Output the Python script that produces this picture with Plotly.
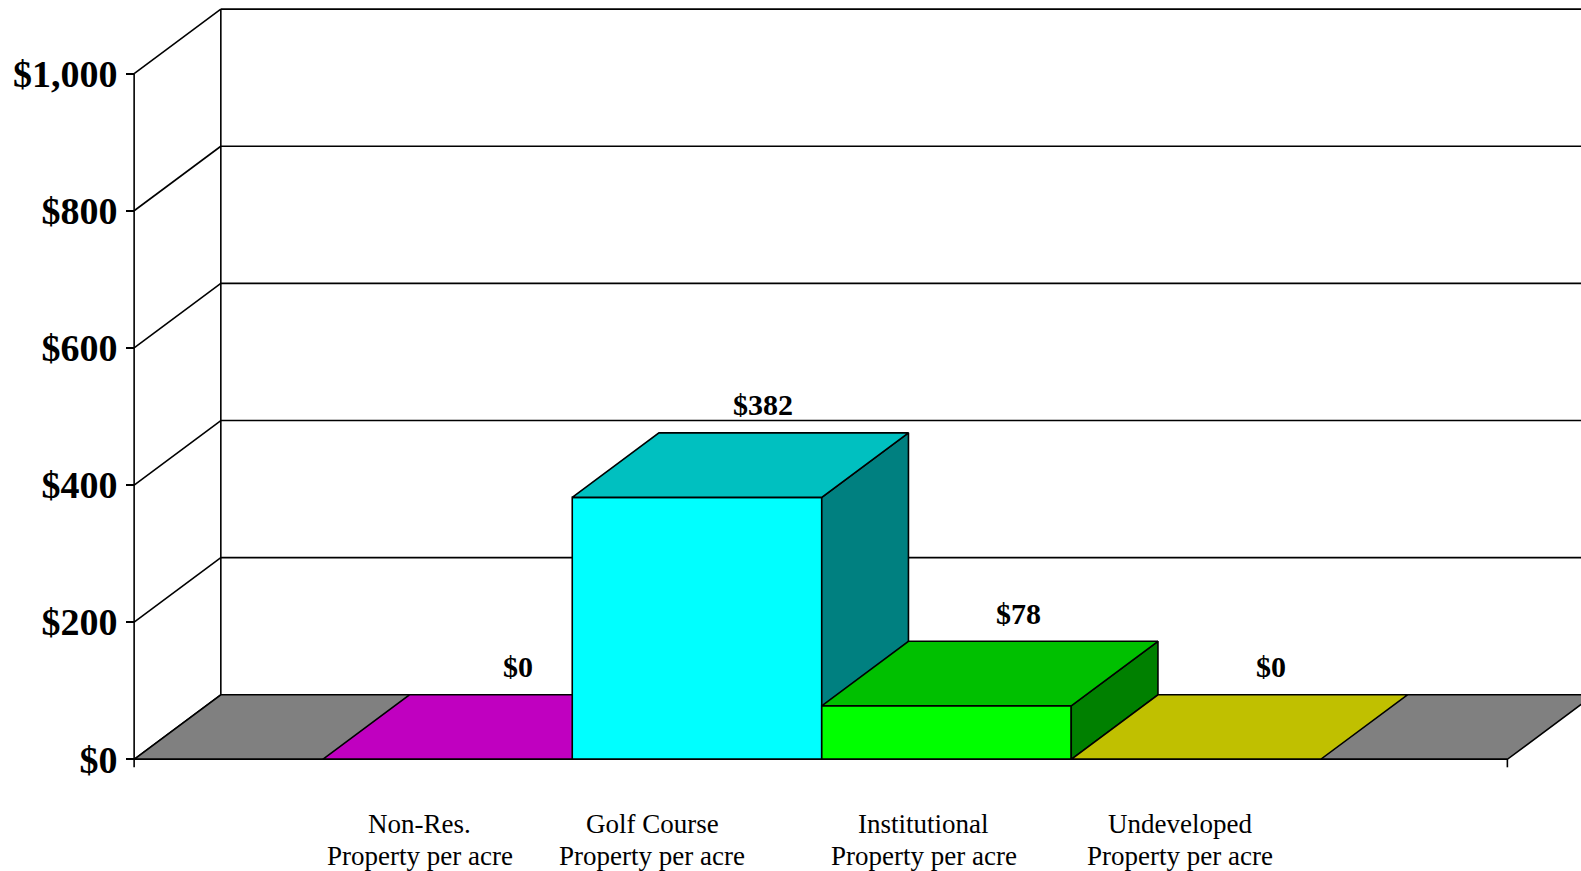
import plotly.graph_objects as go

# ---- data ----
categories = ["Non-Res.<br>Property per acre", "Golf Course<br>Property per acre",
              "Institutional<br>Property per acre", "Undeveloped<br>Property per acre"]
values = [0, 382, 78, 0]
value_labels = ["$0", "$382", "$78", "$0"]
tick_values = [0, 200, 400, 600, 800, 1000]
tick_labels = ["$0", "$200", "$400", "$600", "$800", "$1,000"]

front_colors = ["#C000C0", "#00FFFF", "#00FF00", "#C0C000"]
top_colors = ["#C000C0", "#00C0C0", "#00C000", "#C0C000"]
side_colors = ["#800080", "#008080", "#008000", "#808000"]
label_xshift = [-28, -45, -23, -16]  # px nudges of the category labels
value_xshift = [70, 66, 72, 75]      # px nudges of the value labels

# ---- 3D geometry (axis units) ----
W, H = 1581, 871
px_per_x = 249.5          # px per category unit
px_per_y = 0.6857         # px per dollar
x0_px, y0_px = 447.5, 759.3
xr = [-x0_px / px_per_x, (W - x0_px) / px_per_x]
yr = [-(H - y0_px) / px_per_y, y0_px / px_per_y]
DX = 86.7 / px_per_x      # depth offset in x units
DY = 64.5 / px_per_y      # depth offset in y units
floorL, floorR = -1.256, 4.248
bw = 0.5                  # half bar width
LW = 1.6

fig = go.Figure()


def poly(xs, ys, fill=None, width=LW):
    if fill is None:
        fig.add_trace(go.Scatter(x=xs, y=ys, mode="lines", line=dict(color="black", width=width),
                                 hoverinfo="skip", showlegend=False))
    else:
        fig.add_trace(go.Scatter(x=xs + [xs[0]], y=ys + [ys[0]], mode="lines", fill="toself",
                                 fillcolor=fill, line=dict(color="black", width=width),
                                 hoverinfo="skip", showlegend=False))


# back wall gridlines + left wall connectors
for v in tick_values:
    poly([floorL + DX, floorR + DX + 1], [v + DY, v + DY])
    poly([floorL, floorL + DX], [v, v + DY])
poly([floorL + DX, floorL + DX], [DY, tick_values[-1] + DY])

# floor
poly([floorL, floorR, floorR + DX, floorL + DX], [0, 0, DY, DY], fill="#808080")

# bars
for i, v in enumerate(values):
    l, r = i - bw, i + bw
    if v == 0:
        poly([l, r, r + DX, l + DX], [0, 0, DY, DY], fill=top_colors[i])
    else:
        poly([l, r, r, l], [0, 0, v, v], fill=front_colors[i])
        poly([r, r + DX, r + DX, r], [0, DY, v + DY, v], fill=side_colors[i])
        poly([l, r, r + DX, l + DX], [v, v, v + DY, v + DY], fill=top_colors[i])
    fig.add_annotation(x=i, y=v + DY, text="<b>%s</b>" % value_labels[i], showarrow=False,
                       xshift=value_xshift[i], yshift=28,
                       font=dict(family="Liberation Serif", size=30, color="black"))
    for k, line in enumerate(categories[i].split("<br>")):
        fig.add_annotation(x=i, y=yr[0], text=line, showarrow=False,
                           xshift=label_xshift[i], yanchor="middle", yshift=[47.5, 15.5][k],
                           font=dict(family="Liberation Serif", size=27, color="black"))

# front axis, floor front edge and end ticks
poly([floorL, floorL], [0, tick_values[-1]])
poly([floorL, floorR], [0, 0])
tick_down = 8 / px_per_y
poly([floorL, floorL], [0, -tick_down])
poly([floorR, floorR], [0, -tick_down])

fig.update_layout(
    width=W, height=H, autosize=False,
    margin=dict(l=0, r=0, t=0, b=0),
    paper_bgcolor="white", plot_bgcolor="white",
    xaxis=dict(range=xr, visible=False, fixedrange=True),
    yaxis=dict(range=yr, anchor="free", position=(floorL - xr[0]) / (xr[1] - xr[0]),
               showgrid=False, zeroline=False, showline=False,
               tickvals=tick_values, ticktext=tick_labels, ticks="outside", ticklen=8,
               tickwidth=LW, tickcolor="black", ticklabelstandoff=1,
               tickfont=dict(family="Liberation Serif", size=38, color="black", weight="bold"),
               fixedrange=True),
)

fig.write_html("out.html")
